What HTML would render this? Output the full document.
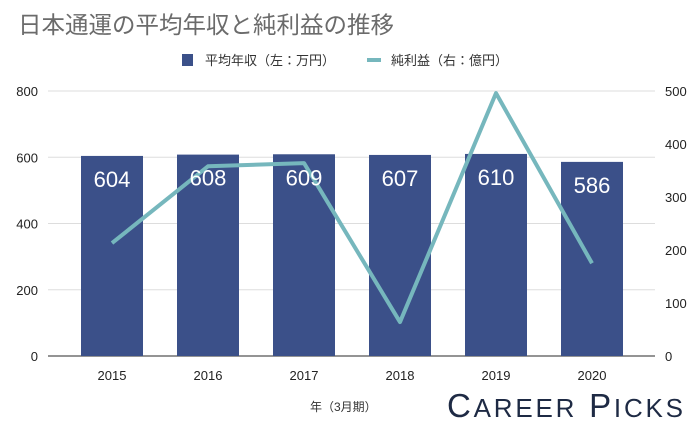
<!DOCTYPE html>
<html><head><meta charset="utf-8"><style>
body{margin:0;background:#fff;}
svg text{font-family:"Liberation Sans","Noto Sans CJK JP",sans-serif;}
</style></head><body>
<svg id="c" width="700" height="428" xmlns="http://www.w3.org/2000/svg">
<text x="18" y="33" font-size="23.5" fill="#6b6b6b">日本通運の平均年収と純利益の推移</text>
<rect x="182" y="54" width="11" height="12" fill="#3b5089"/>
<text x="205" y="65" font-size="13" fill="#333">平均年収（左：万円）</text>
<rect x="367" y="58" width="14" height="4" fill="#76b7bd"/>
<text x="391" y="65" font-size="13" fill="#333">純利益（右：億円）</text>
<g id="grid"></g><g id="bars"></g><g id="line"></g><g id="labels"></g>
<text x="310" y="411" font-size="12" fill="#333">年（3月期）</text>
<text x="447" y="417" font-size="33" fill="#1e2a44" textLength="236" lengthAdjust="spacing">C<tspan font-size="26">AREER</tspan> P<tspan font-size="26">ICKS</tspan></text>
</svg>
<script>
const categories=["2015","2016","2017","2018","2019","2020"];
const salary=[604,608,609,607,610,586];
const profit=[213,358,364,64,496,175];
const leftTicks=[0,200,400,600,800];
const rightTicks=[0,100,200,300,400,500];
const ns="http://www.w3.org/2000/svg";
const y0=356,y1=91;
const yL=v=>y0-(v/800)*(y0-y1);
const yR=v=>y0-(v/500)*(y0-y1);
const xC=i=>112+i*96;
function mk(t,a,p){const e=document.createElementNS(ns,t);for(const k in a)e.setAttribute(k,a[k]);document.getElementById(p).appendChild(e);return e;}
leftTicks.forEach(v=>{
 const l=mk("line",{x1:48,x2:655,y1:yL(v),y2:yL(v),stroke:v===0?"#555":"#ddd","stroke-width":v===0?1.2:1},"grid");
 
 
 const t=mk("text",{x:38,y:yL(v)+5,"font-size":13,fill:"#222","text-anchor":"end"},"grid");t.textContent=v;
 
 
});
rightTicks.forEach(v=>{
 const t=mk("text",{x:665,y:yR(v)+5,"font-size":13,fill:"#222"},"grid");t.textContent=v;
 
 
});
categories.forEach((c,i)=>{
 const b=mk("rect",{x:xC(i)-31,y:yL(salary[i]),width:62,height:y0-yL(salary[i]),fill:"#3b5089"},"bars");
 
 
 const t=mk("text",{x:xC(i),y:yL(salary[i])+31,"font-size":22,fill:"#fff","text-anchor":"middle"},"labels");t.textContent=salary[i];
 
 
 const x=mk("text",{x:xC(i),y:380,"font-size":13,fill:"#222","text-anchor":"middle"},"grid");x.textContent=c;
 
 
});
const p=mk("polyline",{points:profit.map((v,i)=>xC(i)+","+yR(v)).join(" "),fill:"none",stroke:"#76b7bd","stroke-width":4,"stroke-linejoin":"round"},"line");


</script>
</body></html>
